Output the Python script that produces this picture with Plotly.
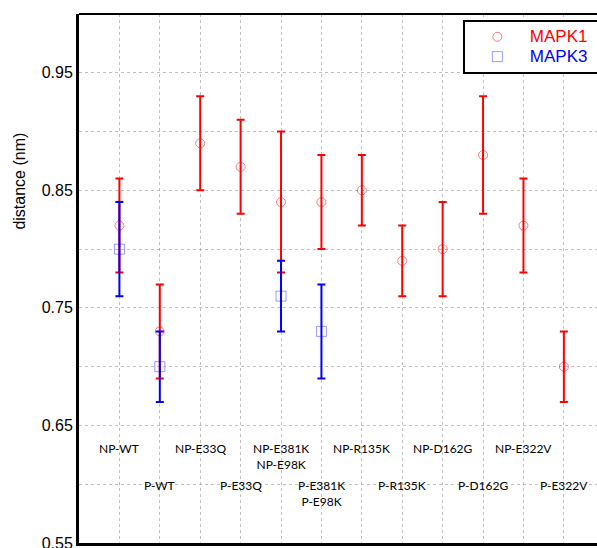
import plotly.graph_objects as go

# Mutant categories along the x axis (paired non-phosphorylated / phosphorylated)
categories = ["NP-WT", "P-WT", "NP-E33Q", "P-E33Q", "NP-E381K<br>NP-E98K",
              "P-E381K<br>P-E98K", "NP-R135K", "P-R135K", "NP-D162G", "P-D162G",
              "NP-E322V", "P-E322V"]
positions = list(range(1, len(categories) + 1))

# MAPK1 distances (nm) with lower / upper error extents
mapk1_mean = [0.82, 0.73, 0.89, 0.87, 0.84, 0.84, 0.85, 0.79, 0.80, 0.88, 0.82, 0.70]
mapk1_low = [0.78, 0.69, 0.85, 0.83, 0.78, 0.80, 0.82, 0.76, 0.76, 0.83, 0.78, 0.67]
mapk1_high = [0.86, 0.77, 0.93, 0.91, 0.90, 0.88, 0.88, 0.82, 0.84, 0.93, 0.86, 0.73]

# MAPK3 distances (nm), only for a subset of categories
mapk3_pos = [1, 2, 5, 6]
mapk3_mean = [0.80, 0.70, 0.76, 0.73]
mapk3_low = [0.76, 0.67, 0.73, 0.69]
mapk3_high = [0.84, 0.73, 0.79, 0.77]

# Vertical placement of the category captions (data units)
label_y_np = 0.632
label_y_p = 0.600

fig = go.Figure()

fig.add_trace(go.Scatter(
    x=positions, y=mapk1_mean, mode="markers",
    name="<span style='color:#ff0000;font-size:17px'>MAPK1</span>&nbsp;&nbsp;",
    marker=dict(symbol="circle-open", size=9, color="rgba(255,0,0,0.5)",
                line=dict(width=1)),
    error_y=dict(type="data", symmetric=False,
                 array=[h - m for h, m in zip(mapk1_high, mapk1_mean)],
                 arrayminus=[m - l for m, l in zip(mapk1_mean, mapk1_low)],
                 color="#ff0000", thickness=2, width=4),
))

fig.add_trace(go.Scatter(
    x=mapk3_pos, y=mapk3_mean, mode="markers",
    name="<span style='color:#0000ff;font-size:17px'>MAPK3</span>&nbsp;&nbsp;",
    marker=dict(symbol="square-open", size=10, color="rgba(0,0,255,0.4)",
                line=dict(width=1)),
    error_y=dict(type="data", symmetric=False,
                 array=[h - m for h, m in zip(mapk3_high, mapk3_mean)],
                 arrayminus=[m - l for m, l in zip(mapk3_mean, mapk3_low)],
                 color="#0000ff", thickness=2, width=4),
))

# Category captions drawn inside the plot, alternating rows
for pos, cat in zip(positions, categories):
    ypos = label_y_np if cat.startswith("NP") else label_y_p
    fig.add_annotation(x=pos, y=ypos, text=cat, showarrow=False,
                       xanchor="center", yanchor="top", yshift=8,
                       font=dict(family="Lato", size=12, color="black"))

# Y-axis caption
fig.add_annotation(xref="paper", yref="paper", x=-0.114, y=0.685,
                   text="distance (nm)", textangle=-90, showarrow=False,
                   xanchor="center", yanchor="middle",
                   font=dict(family="Liberation Sans", size=16, color="black"))

grid_style = dict(gridcolor="rgba(150,150,150,0.6)", griddash="dot", gridwidth=1)

fig.update_xaxes(range=[0, 12.82], tick0=1, dtick=1, showticklabels=False,
                 ticks="", showline=True, linecolor="black", linewidth=3,
                 mirror=False, zeroline=False, **grid_style)
fig.update_yaxes(range=[0.55, 1.0], tick0=0.55, dtick=0.1, tickformat=".2f",
                 ticks="", showline=True, linecolor="black", linewidth=3,
                 zeroline=False, ticklabeloverflow="allow", automargin=False,
                 tickfont=dict(family="Liberation Sans", size=16, color="black"),
                 minor=dict(dtick=0.05, showgrid=True, **grid_style),
                 **grid_style)

# Top border of the plot frame
fig.add_shape(type="line", xref="paper", yref="paper", x0=0, x1=1, y0=1, y1=1,
              line=dict(color="black", width=2))

fig.update_layout(
    width=597, height=548,
    margin=dict(l=79, r=0, t=14, b=5, autoexpand=False),
    plot_bgcolor="white", paper_bgcolor="white",
    legend=dict(x=0.741, y=0.989, xanchor="left", yanchor="top",
                bordercolor="black", borderwidth=2, bgcolor="white",
                itemwidth=55, tracegroupgap=0,
                font=dict(family="Liberation Sans", size=13)),
    showlegend=True,
)

fig.write_html("out.html")
